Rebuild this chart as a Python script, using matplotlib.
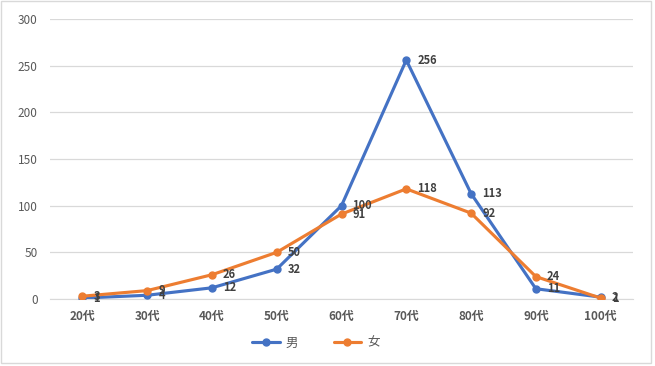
import matplotlib
matplotlib.use("Agg")
import matplotlib.pyplot as plt
from matplotlib.patches import Rectangle

plt.rcParams['font.family'] = ['Noto Sans CJK JP', 'DejaVu Sans']

categories = ["20代", "30代", "40代", "50代", "60代", "70代", "80代", "90代", "100代"]
male = [1, 4, 12, 32, 100, 256, 113, 11, 2]
female = [3, 9, 26, 50, 91, 118, 92, 24, 1]
yticks = [0, 50, 100, 150, 200, 250, 300]

blue = "#4472C4"
orange = "#ED7D31"

fig = plt.figure(figsize=(6.55, 3.66), dpi=100)
ax = fig.add_axes([50/655, 67/366, 583/655, 280/366])

x = list(range(len(categories)))
ax.plot(x, male, color=blue, lw=2.25, marker='o', ms=5, label="男", zorder=3, solid_capstyle='round')
ax.plot(x, female, color=orange, lw=2.25, marker='o', ms=5, label="女", zorder=4, solid_capstyle='round')

for xi, v in zip(x, male):
    ax.annotate(str(v), (xi, v), xytext=(8, 0), textcoords='offset points',
                ha='left', va='center', fontsize=8, fontweight='bold', color='#404040', zorder=5)
for xi, v in zip(x, female):
    ax.annotate(str(v), (xi, v), xytext=(8, 0), textcoords='offset points',
                ha='left', va='center', fontsize=8, fontweight='bold', color='#404040', zorder=5)

ax.set_xlim(-0.5, len(categories) - 0.5)
ax.set_ylim(0, 300)
ax.set_yticks(yticks)
ax.set_yticklabels([str(t) for t in yticks], fontsize=8.5, color='#595959')
ax.set_xticks(x)
ax.set_xticklabels(categories, fontsize=8.5, color='#595959', fontweight='bold')
ax.yaxis.grid(True, color='#D9D9D9', lw=0.9)
ax.set_axisbelow(True)
for s in ['top', 'right', 'left']:
    ax.spines[s].set_visible(False)
ax.spines['bottom'].set_color('#D9D9D9')
ax.tick_params(axis='x', length=0, pad=8)
ax.tick_params(axis='y', length=0, pad=9)

leg = fig.legend(loc='center', bbox_to_anchor=(316/655, 1 - 343/366), ncol=2, frameon=False,
                 fontsize=9, handlelength=2.2, columnspacing=2.8, handletextpad=0.5)
for t in leg.get_texts():
    t.set_color('#595959')

fig.patches.append(Rectangle((1/655, 3/366), 650/655, 362/366, transform=fig.transFigure,
                             fill=False, edgecolor='#D9D9D9', lw=1))

fig.savefig("out.png", dpi=100)
